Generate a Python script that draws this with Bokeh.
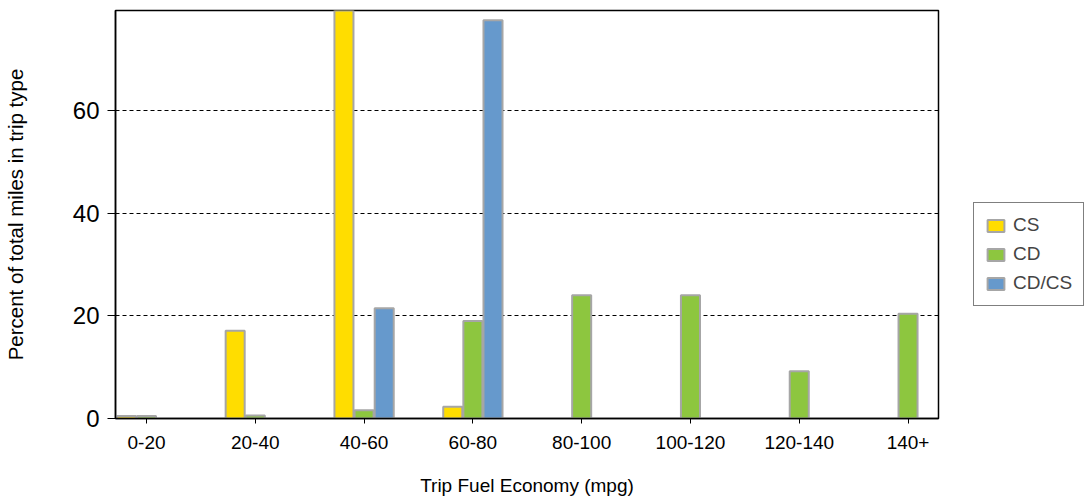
from bokeh.plotting import figure
from bokeh.models import ColumnDataSource, Legend, LegendItem, FixedTicker, Range1d
from bokeh.embed import file_html
from bokeh.resources import INLINE

categories = ["0-20", "20-40", "40-60", "60-80", "80-100", "100-120", "120-140", "140+"]
series_names = ["CS", "CD", "CD/CS"]
cs_values = [0.5, 17.1, 79.5, 2.3, 0, 0, 0, 0]
cd_values = [0.5, 0.6, 1.6, 19.0, 24.0, 24.0, 9.2, 20.4]
cdcs_values = [0, 0, 21.5, 77.6, 0, 0, 0, 0]
y_ticks = [0, 20, 40, 60]

colors = ["#FFDD00", "#8DC63F", "#6699CC"]
offsets = [-0.185, 0.0, 0.185]
FONT = "Liberation Sans"

p = figure(width=1084, height=498, output_backend="svg", toolbar_location=None,
           x_range=Range1d(-0.285, 7.28), y_range=Range1d(0, 79.5),
           frame_width=823, frame_height=408,
           min_border_left=115, min_border_top=10, min_border_bottom=80, min_border_right=146)

items = []
for name, vals, col, off in zip(series_names, [cs_values, cd_values, cdcs_values], colors, offsets):
    xs = [i + off for i, v in enumerate(vals) if v > 0]
    ys = [v for v in vals if v > 0]
    src = ColumnDataSource(dict(x=xs, top=ys))
    r = p.vbar(x="x", top="top", bottom=0, width=0.175, source=src,
               fill_color=col, line_color="#A6A6A6", line_width=2)
    items.append(LegendItem(label=name, renderers=[r]))

legend = Legend(items=items, location=(35, 112), border_line_color="black", border_line_width=1,
                label_text_font=FONT, label_text_font_size="19px", glyph_width=21, glyph_height=15,
                label_standoff=7, spacing=7, padding=11, label_height=21, margin=0,
                background_fill_alpha=1)
p.add_layout(legend, "right")

p.xaxis.ticker = FixedTicker(ticks=list(range(len(categories))))
p.xaxis.major_label_overrides = {i: c for i, c in enumerate(categories)}
p.yaxis.ticker = FixedTicker(ticks=y_ticks)

p.xaxis.axis_label = "Trip Fuel Economy (mpg)"
p.yaxis.axis_label = "Percent of total miles in trip type"

for ax in [p.xaxis[0], p.yaxis[0]]:
    ax.axis_line_color = "black"
    ax.axis_line_width = 1.5
    ax.major_tick_line_color = "black"
    ax.major_tick_in = 0
    ax.minor_tick_line_color = None
    ax.major_label_text_font = FONT
    ax.axis_label_text_font = FONT
    ax.axis_label_text_font_style = "normal"
    ax.major_label_text_color = "black"
    ax.axis_label_text_color = "black"

p.xaxis.major_tick_out = 5
p.xaxis.major_label_text_font_size = "19px"
p.xaxis.major_label_standoff = 12
p.xaxis.axis_label_text_font_size = "19px"
p.xaxis.axis_label_standoff = 23
p.yaxis.major_tick_out = 8
p.yaxis.major_label_standoff = 8
p.yaxis.major_label_text_font_size = "24px"
p.yaxis.axis_label_text_font_size = "20.5px"
p.yaxis.axis_label_standoff = 43

p.xgrid.grid_line_color = None
p.ygrid.grid_line_color = "black"
p.ygrid.grid_line_dash = "4 3"
p.ygrid.grid_line_width = 1

p.outline_line_color = "black"
p.outline_line_width = 1.5
p.background_fill_color = "white"
p.border_fill_color = "white"

open("out.html", "w").write(file_html(p, INLINE))
